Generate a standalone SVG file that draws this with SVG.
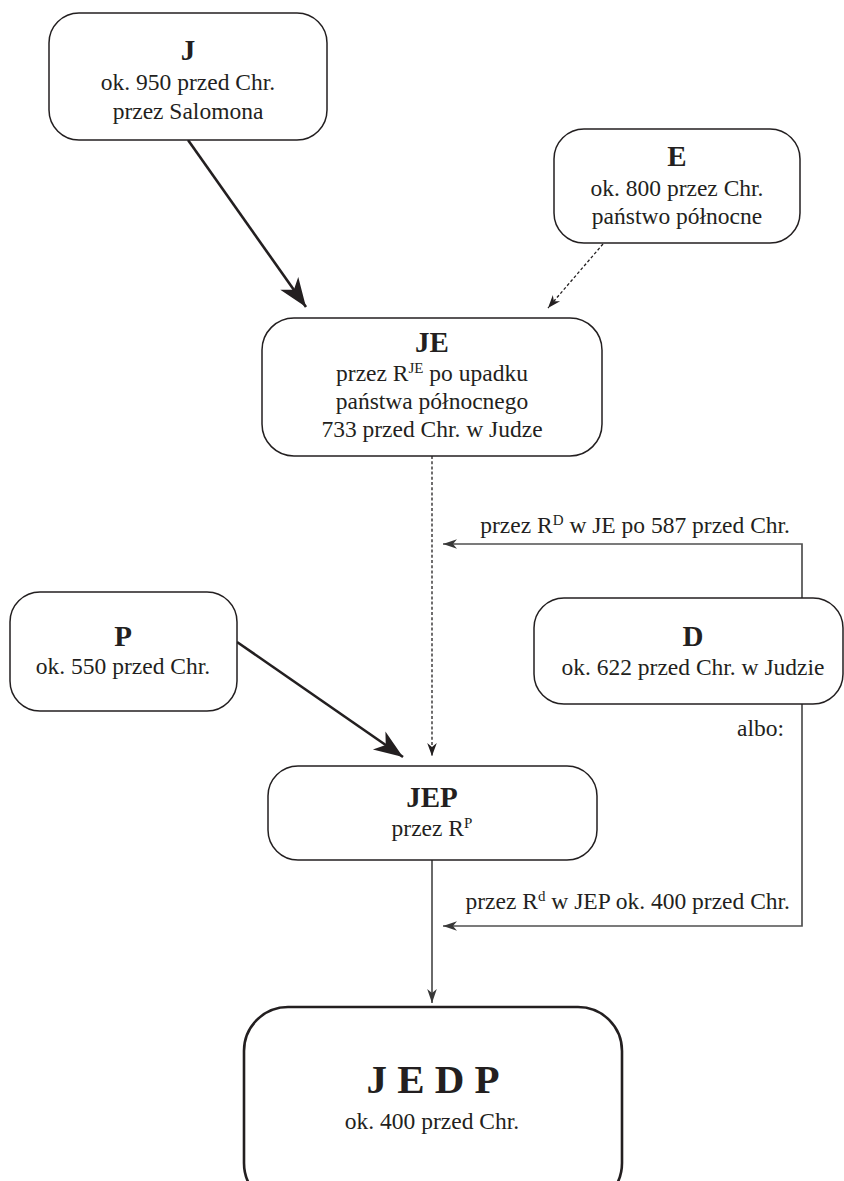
<svg xmlns="http://www.w3.org/2000/svg" width="844" height="1181" viewBox="0 0 844 1181">
<style>
.box{fill:#fff;stroke:#231f20;stroke-width:1.5}
.big{fill:#fff;stroke:#231f20;stroke-width:2.6}
.t{font-family:"Liberation Serif",serif;font-size:23.5px;fill:#231f20;text-anchor:middle}
.h{font-family:"Liberation Serif",serif;font-size:29px;font-weight:bold;fill:#231f20;text-anchor:middle}
.sup{font-size:15px}
.thick{fill:none;stroke:#231f20;stroke-width:2.6}
.grey{fill:none;stroke:#505050;stroke-width:1.7}
.dash{fill:none;stroke:#231f20;stroke-width:1.3;stroke-dasharray:3 2.2}
</style>
<defs>
<marker id="ab" markerUnits="userSpaceOnUse" markerWidth="32" markerHeight="26" viewBox="-30 -12 32 24" refX="0" refY="0" orient="auto">
<path d="M0,0 L-29,-11 L-21,0 L-29,11 Z" fill="#231f20"/>
</marker>
<marker id="as" markerUnits="userSpaceOnUse" markerWidth="16" markerHeight="12" viewBox="-15 -6 16 12" refX="0" refY="0" orient="auto">
<path d="M0,0 L-13,-4.8 L-9,0 L-13,4.8 Z" fill="#231f20"/>
</marker>
<marker id="ag" markerUnits="userSpaceOnUse" markerWidth="16" markerHeight="12" viewBox="-15 -6 16 12" refX="0" refY="0" orient="auto">
<path d="M0,0 L-14,-4.8 L-10,0 L-14,4.8 Z" fill="#383838"/>
</marker>
</defs>

<g id="connectors">
<line class="thick" x1="188" y1="140" x2="306" y2="307" marker-end="url(#ab)"/>
<line class="dash" x1="603" y1="244" x2="548" y2="308" marker-end="url(#as)"/>
<line class="dash" x1="432" y1="456" x2="432" y2="756" marker-end="url(#as)"/>
<line class="thick" x1="237" y1="642" x2="403" y2="757" marker-end="url(#ab)"/>
<polyline class="grey" points="802,598 802,544 443,544" marker-end="url(#ag)"/>
<polyline class="grey" points="802,704 802,926 443,926" marker-end="url(#ag)"/>
<line class="grey" x1="432" y1="860" x2="432" y2="1003" marker-end="url(#ag)"/>
<text class="t" x="790" y="533" style="text-anchor:end">przez R<tspan class="sup" dy="-8">D</tspan><tspan dy="8"> w JE po 587 przed Chr.</tspan></text>
<text class="t" x="784" y="736" style="text-anchor:end">albo:</text>
<text class="t" x="790" y="909" style="text-anchor:end">przez R<tspan class="sup" dy="-8">d</tspan><tspan dy="8"> w JEP ok. 400 przed Chr.</tspan></text>
</g>

<g id="node-J">
<rect class="box" x="49" y="13" width="278" height="127" rx="30"/>
<text class="h" x="188" y="60">J</text>
<text class="t" x="188" y="90">ok. 950 przed Chr.</text>
<text class="t" x="188" y="119">przez Salomona</text>
</g>

<g id="node-E">
<rect class="box" x="554" y="129" width="246" height="114" rx="30"/>
<text class="h" x="677" y="166">E</text>
<text class="t" x="677" y="196">ok. 800 przez Chr.</text>
<text class="t" x="677" y="224">państwo północne</text>
</g>

<g id="node-JE">
<rect class="box" x="262" y="318" width="340" height="138" rx="32"/>
<text class="h" x="432" y="352">JE</text>
<text class="t" x="432" y="381">przez R<tspan class="sup" dy="-8">JE</tspan><tspan dy="8"> po upadku</tspan></text>
<text class="t" x="432" y="409">państwa północnego</text>
<text class="t" x="432" y="437">733 przed Chr. w Judze</text>
</g>

<g id="node-P">
<rect class="box" x="10" y="592" width="227" height="119" rx="30"/>
<text class="h" x="123" y="646">P</text>
<text class="t" x="123" y="674">ok. 550 przed Chr.</text>
</g>

<g id="node-D">
<rect class="box" x="534" y="598" width="309" height="106" rx="30"/>
<text class="h" x="693" y="646">D</text>
<text class="t" x="693" y="675">ok. 622 przed Chr. w Judzie</text>
</g>

<g id="node-JEP">
<rect class="box" x="268" y="766" width="329" height="94" rx="30"/>
<text class="h" x="432" y="807">JEP</text>
<text class="t" x="432" y="836">przez R<tspan class="sup" dy="-8">P</tspan></text>
</g>

<g id="node-JEDP">
<rect class="big" x="244" y="1007" width="378" height="200" rx="44"/>
<text class="h" x="433" y="1093" style="font-size:41px">J E D P</text>
<text class="t" x="432" y="1129">ok. 400 przed Chr.</text>
</g>
</svg>
